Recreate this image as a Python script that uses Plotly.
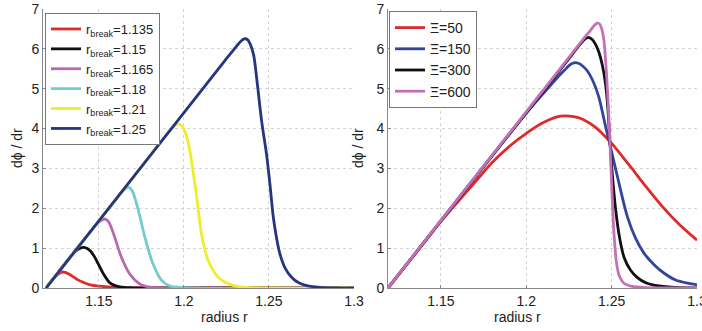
import plotly.graph_objects as go

# ---------------- data ----------------
# Left panel: different r_break
left_names = ["r<sub>break</sub>=1.135", "r<sub>break</sub>=1.15", "r<sub>break</sub>=1.165",
              "r<sub>break</sub>=1.18", "r<sub>break</sub>=1.21", "r<sub>break</sub>=1.25"]
left_colors = ["#e02a2a", "#111111", "#b868ad", "#72cccc", "#eeee2a", "#26357f"]

r_rb1135 = [1.119, 1.1235, 1.126, 1.1285, 1.131, 1.134, 1.1375, 1.1408, 1.145, 1.1506, 1.1606, 1.17, 1.3]
y_rb1135 = [0, 0.24, 0.34, 0.40, 0.38, 0.31, 0.21, 0.145, 0.08, 0.045, 0.01, 0, 0]

r_rb115 = [1.119, 1.134, 1.1365, 1.139, 1.1412, 1.1432, 1.1452, 1.1472, 1.1495, 1.1525, 1.1565, 1.1624, 1.17, 1.18, 1.3]
y_rb115 = [0, 0.82, 0.93, 1.0, 1.02, 0.99, 0.92, 0.80, 0.62, 0.37, 0.13, 0.03, 0.005, 0, 0]

r_rb1165 = [1.119, 1.147, 1.1495, 1.152, 1.1538, 1.1558, 1.1575, 1.1594, 1.1633, 1.1682, 1.1741, 1.18, 1.19, 1.3]
y_rb1165 = [0, 1.52, 1.63, 1.71, 1.73, 1.66, 1.50, 1.27, 0.77, 0.35, 0.10, 0.02, 0, 0]

r_rb118 = [1.119, 1.160, 1.1625, 1.165, 1.1673, 1.1695, 1.1715, 1.174, 1.1771, 1.1819, 1.1869, 1.1918, 1.2, 1.3]
y_rb118 = [0, 2.22, 2.36, 2.47, 2.53, 2.45, 2.22, 1.82, 1.27, 0.60, 0.19, 0.05, 0.01, 0]

r_rb121 = [1.119, 1.189, 1.192, 1.1945, 1.197, 1.1995, 1.2015, 1.2035, 1.2055, 1.2075, 1.2104, 1.2143, 1.2202, 1.2271, 1.235, 1.25, 1.3]
y_rb121 = [0, 3.80, 3.96, 4.07, 4.11, 4.03, 3.82, 3.45, 2.90, 2.30, 1.35, 0.69, 0.27, 0.09, 0.02, 0, 0]

r_rb125 = [1.119, 1.224, 1.228, 1.231, 1.2335, 1.2355, 1.2372, 1.239, 1.241, 1.2431, 1.2457, 1.2486, 1.2506,
           1.2525, 1.2545, 1.2565, 1.2595, 1.2633, 1.2675, 1.2722, 1.28, 1.29, 1.3]
y_rb125 = [0, 5.70, 5.91, 6.07, 6.19, 6.25, 6.24, 6.12, 5.85, 5.15, 4.19, 3.35, 2.60,
           1.80, 1.25, 0.85, 0.50, 0.27, 0.13, 0.06, 0.015, 0, 0]

left_r = [r_rb1135, r_rb115, r_rb1165, r_rb118, r_rb121, r_rb125]
left_y = [y_rb1135, y_rb115, y_rb1165, y_rb118, y_rb121, y_rb125]

# Right panel: different Xi
right_names = ["\u039e=50", "\u039e=150", "\u039e=300", "\u039e=600"]
right_colors = ["#dd2a2a", "#34449a", "#111111", "#c470b8"]

r_xi50 = [1.119, 1.13, 1.14, 1.15, 1.16, 1.17, 1.18, 1.19, 1.2, 1.21, 1.22, 1.23, 1.24, 1.25, 1.26, 1.27, 1.28, 1.29, 1.3]
y_xi50 = [0, 0.59, 1.13, 1.67, 2.17, 2.66, 3.15, 3.55, 3.88, 4.15, 4.31, 4.28, 4.05, 3.63, 3.10, 2.55, 2.03, 1.58, 1.20]

r_xi150 = [1.119, 1.195, 1.205, 1.212, 1.218, 1.2225, 1.2255, 1.228, 1.2305, 1.233, 1.2357, 1.239, 1.2425,
           1.2465, 1.249, 1.2534, 1.2592, 1.264, 1.269, 1.275, 1.2808, 1.2875, 1.2945, 1.3]
y_xi150 = [0, 4.13, 4.64, 4.98, 5.27, 5.47, 5.60, 5.65, 5.64, 5.57, 5.45, 5.20, 4.79,
           4.04, 3.60, 2.79, 1.79, 1.25, 0.87, 0.58, 0.37, 0.20, 0.12, 0.08]

r_xi300 = [1.119, 1.226, 1.229, 1.232, 1.2345, 1.2365, 1.2385, 1.2405, 1.2425, 1.2445, 1.2465, 1.2478, 1.249,
           1.2505, 1.2524, 1.2545, 1.2572, 1.261, 1.2651, 1.27, 1.2747, 1.285, 1.3]
y_xi300 = [0, 5.81, 5.98, 6.14, 6.25, 6.29, 6.24, 6.12, 5.92, 5.60, 5.10, 4.50, 3.67,
           2.80, 1.95, 1.30, 0.78, 0.45, 0.26, 0.13, 0.07, 0.02, 0]

r_xi600 = [1.119, 1.235, 1.2375, 1.2395, 1.2412, 1.2428, 1.2442, 1.2455, 1.2468, 1.248, 1.249, 1.2502,
           1.2514, 1.2528, 1.2545, 1.2572, 1.262, 1.27, 1.3]
y_xi600 = [0, 6.33, 6.46, 6.57, 6.64, 6.63, 6.50, 6.20, 5.50, 4.60, 3.67, 2.40,
           1.35, 0.65, 0.30, 0.12, 0.04, 0.01, 0]

right_r = [r_xi50, r_xi150, r_xi300, r_xi600]
right_y = [y_xi50, y_xi150, y_xi300, y_xi600]

x_ticks = [1.15, 1.2, 1.25, 1.3]
x_tick_text = ["1.15", "1.2", "1.25", "1.3"]
y_ticks = [0, 1, 2, 3, 4, 5, 6, 7]

# ---------------- figure ----------------
W, H = 702, 331
fig = go.Figure()

for r, y, n, c in zip(left_r, left_y, left_names, left_colors):
    fig.add_trace(go.Scatter(x=r, y=y, name=n, mode="lines",
                             line=dict(color=c, width=2.8, shape="spline", smoothing=0.8),
                             xaxis="x", yaxis="y", legend="legend"))
for r, y, n, c in zip(right_r, right_y, right_names, right_colors):
    fig.add_trace(go.Scatter(x=r, y=y, name=n, mode="lines",
                             line=dict(color=c, width=2.8, shape="spline", smoothing=0.8),
                             xaxis="x2", yaxis="y2", legend="legend2"))

font_family = "Liberation Sans, Arial, sans-serif"
axis_common = dict(showgrid=True, gridcolor="#d4d4d4", griddash="dot", gridwidth=1,
                   zeroline=False, showline=True, linecolor="#888888", linewidth=1,
                   ticks="inside", ticklen=3, tickcolor="#888888", automargin=False,
                   ticklabeloverflow="allow",
                   tickfont=dict(family=font_family, size=14, color="#222222"))

def px_x(p):
    return p / W

def px_y(p):
    return 1 - p / H

fig.update_layout(
    width=W, height=H, autosize=False,
    margin=dict(l=0, r=0, t=0, b=0, pad=0, autoexpand=False),
    paper_bgcolor="white", plot_bgcolor="white",
    font=dict(family=font_family, size=14, color="#222222"),
    xaxis=dict(domain=[px_x(43), px_x(354)], range=[1.1172, 1.3], tickvals=x_ticks,
               ticktext=x_tick_text, anchor="y", **axis_common),
    yaxis=dict(domain=[px_y(288), px_y(9)], range=[0, 7], tickvals=y_ticks, anchor="x",
               **axis_common),
    xaxis2=dict(domain=[px_x(388), px_x(697)], range=[1.119, 1.3], tickvals=x_ticks,
                ticktext=x_tick_text, anchor="y2", **axis_common),
    yaxis2=dict(domain=[px_y(288), px_y(9)], range=[0, 7], tickvals=y_ticks, anchor="x2",
                **axis_common),
    legend=dict(x=px_x(45), y=px_y(13), xanchor="left", yanchor="top",
                bgcolor="white", bordercolor="#777777", borderwidth=1,
                font=dict(family=font_family, size=13, color="#222222"),
                tracegroupgap=0, itemwidth=30),
    legend2=dict(x=px_x(389), y=px_y(11), xanchor="left", yanchor="top",
                 bgcolor="white", bordercolor="#777777", borderwidth=1,
                 font=dict(family=font_family, size=14, color="#222222"),
                 tracegroupgap=0, itemwidth=30),
    showlegend=True,
)

ann_font = dict(family=font_family, size=14, color="#222222")
fig.add_annotation(text="radius r", x=(px_x(43) + px_x(354)) / 2, y=px_y(317),
                   xref="paper", yref="paper", yanchor="middle", showarrow=False, font=ann_font)
fig.add_annotation(text="radius r", x=(px_x(388) + px_x(697)) / 2, y=px_y(317),
                   xref="paper", yref="paper", yanchor="middle", showarrow=False, font=ann_font)
fig.add_annotation(text="d\u03d5 / dr", x=px_x(17), y=px_y(148), textangle=-90,
                   xref="paper", yref="paper", xanchor="center", yanchor="middle",
                   showarrow=False, font=ann_font)
fig.add_annotation(text="d\u03d5 / dr", x=px_x(358), y=px_y(148), textangle=-90,
                   xref="paper", yref="paper", xanchor="center", yanchor="middle",
                   showarrow=False, font=ann_font)

fig.write_html("out.html",
               config={"responsive": False, "displayModeBar": False},
               post_script="document.body.style.margin='0';document.body.style.overflow='hidden';")
